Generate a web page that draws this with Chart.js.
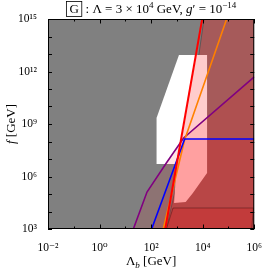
<!DOCTYPE html>
<html>
<head>
<meta charset="utf-8">
<script src="https://cdn.jsdelivr.net/npm/chart.js@4.4.0/dist/chart.umd.min.js"></script>
<style>
  html, body { margin: 0; padding: 0; background: #fff; }
  #wrap { width: 266px; height: 273px; }
</style>
</head>
<body>
<div id="wrap"><canvas id="chart"></canvas></div>
<script>
// all values are log10: x = log10(Lambda_b / GeV), y = log10(f / GeV)
var xTicks = [-2, -1, 0, 1, 2, 3, 4, 5, 6];
var yTicks = [3, 4, 5, 6, 7, 8, 9, 10, 11, 12, 13, 14, 15];

var grayRegion  = [[-2, 3], [6, 3], [6, 15], [-2, 15]];
var darkRegion  = [[4.05, 15], [6, 15], [6, 3], [2.59, 3], [3.38, 8.09]];
var whiteRegion = [[2.21, 9.34], [3.08, 12.94], [3.73, 12.94], [2.99, 6.71], [2.21, 6.71]];
var pinkRegion  = [[3.73, 12.94], [4.17, 12.94], [4.17, 6.2], [3.62, 5.06], [3.34, 4.54], [2.89, 4.49], [2.99, 6.71]];
var bandRegion  = [[2.59, 3], [2.85, 4.2], [5.97, 4.2], [5.9, 3]];

var purpleLine = [[1.31, 3], [1.84, 5.11], [2.59, 6.77], [3.26, 8.2], [6, 11.69]];
var blueLine   = [[2.02, 3], [3.30, 8.14], [6, 8.14]];
var redLine    = [[3.98, 15], [2.55, 3]];
var orangeLine = [[4.93, 15], [3.30, 8.1], [2.47, 3]];
var edgeLine   = [[4.05, 15], [3.38, 8.09], [2.59, 3]];
var cornerBR   = [[6, 3]];

var SERIF = '"Liberation Serif", "DejaVu Serif", serif';
var SUP = {'-': '\u207B', '0': '\u2070', '1': '\u00B9', '2': '\u00B2', '3': '\u00B3', '4': '\u2074',
           '5': '\u2075', '6': '\u2076', '7': '\u2077', '8': '\u2078', '9': '\u2079'};
function pow10(v) {
  return '10' + String(v).split('').map(function (c) { return SUP[c]; }).join('');
}
function pts(a) {
  return a.map(function (p) { return {x: p[0], y: p[1]}; });
}
function area(a, color, order, border, bw) {
  return {data: pts(a), showLine: true, fill: 'shape', backgroundColor: color,
          borderColor: border || 'rgba(0,0,0,0)', borderWidth: bw || 0,
          pointRadius: 0, order: order};
}
function line(a, color, w, order) {
  return {data: pts(a), showLine: true, fill: false, borderColor: color,
          borderWidth: w, pointRadius: 0, order: order};
}

var frameTicks = {
  id: 'frameTicks',
  afterDraw: function (chart) {
    var ctx = chart.ctx, a = chart.chartArea;
    var sx = chart.scales.x, sy = chart.scales.y;
    ctx.save();
    ctx.strokeStyle = '#000';
    ctx.lineWidth = 1;
    ctx.beginPath();
    xTicks.forEach(function (v) {
      var p = Math.round(sx.getPixelForValue(v)) + 0.5;
      var len = v % 2 === 0 ? 4.5 : 2.5;
      ctx.moveTo(p, a.bottom); ctx.lineTo(p, a.bottom - len);
      ctx.moveTo(p, a.top); ctx.lineTo(p, a.top + len);
    });
    yTicks.forEach(function (v) {
      var p = Math.round(sy.getPixelForValue(v)) + 0.5;
      ctx.moveTo(a.left, p); ctx.lineTo(a.left + 4, p);
      ctx.moveTo(a.right, p); ctx.lineTo(a.right - 4, p);
    });
    ctx.stroke();
    ctx.strokeRect(a.left + 0.5, a.top + 0.5, a.right - a.left - 1, a.bottom - a.top - 1);
    ctx.restore();
  }
};

var texts = {
  id: 'texts',
  afterDraw: function (chart) {
    var ctx = chart.ctx, a = chart.chartArea;
    var cx = (a.left + a.right) / 2, cy = (a.top + a.bottom) / 2;
    ctx.save();
    ctx.fillStyle = '#000';
    ctx.strokeStyle = '#000';
    ctx.textBaseline = 'alphabetic';
    ctx.textAlign = 'left';

    // title
    var big = '13px ' + SERIF, small = '9px ' + SERIF, ital = 'italic 13px ' + SERIF;
    var parts = [
      {t: 'G', f: big, box: true},
      {t: ' : \u039B = 3 \u00D7 10', f: big},
      {t: '4', f: small, sup: true},
      {t: ' GeV, ', f: big},
      {t: 'g', f: ital},
      {t: '\u2032 = 10', f: big},
      {t: '\u221214', f: small, sup: true}
    ];
    var w = 0;
    parts.forEach(function (p) { ctx.font = p.f; p.w = ctx.measureText(p.t).width + (p.box ? 7 : 0); w += p.w; });
    var x = cx - w / 2, base = 13;
    parts.forEach(function (p) {
      ctx.font = p.f;
      if (p.box) {
        ctx.lineWidth = 0.8;
        ctx.strokeRect(x + 0.5, 1.5, p.w - 1, 15);
        ctx.fillText(p.t, x + 3.5, base);
      } else {
        ctx.fillText(p.t, x, p.sup ? base - 5 : base);
      }
      x += p.w;
    });

    // x axis title
    var xp = [
      {t: '\u039B', f: big},
      {t: 'b', f: 'italic 9px ' + SERIF, sub: true},
      {t: ' [GeV]', f: big}
    ];
    w = 0;
    xp.forEach(function (p) { ctx.font = p.f; p.w = ctx.measureText(p.t).width; w += p.w; });
    x = cx - w / 2;
    xp.forEach(function (p) {
      ctx.font = p.f;
      ctx.fillText(p.t, x, p.sub ? 268 : 265);
      x += p.w;
    });

    // y axis title
    ctx.translate(15, cy);
    ctx.rotate(-Math.PI / 2);
    var yp = [{t: 'f', f: ital}, {t: ' [GeV]', f: big}];
    w = 0;
    yp.forEach(function (p) { ctx.font = p.f; p.w = ctx.measureText(p.t).width; w += p.w; });
    x = -w / 2;
    yp.forEach(function (p) {
      ctx.font = p.f;
      ctx.fillText(p.t, x, 0);
      x += p.w;
    });
    ctx.restore();
  }
};

var datasets = [
  area(grayRegion, '#808080', 10),
  area(darkRegion, '#a65a5a', 9),
  line(edgeLine, '#505050', 0.8, 8),
  area(whiteRegion, '#ffffff', 7),
  area(pinkRegion, '#ffcccc', 6),
  area(purpleLine.concat(cornerBR), 'rgba(255,0,0,0.10)', 5),
  area(blueLine.concat(cornerBR), 'rgba(255,0,0,0.12)', 4),
  area(bandRegion, 'rgba(255,0,0,0.15)', 3, 'rgba(70,20,20,0.6)', 0.8),
  line(purpleLine, '#800080', 1.6, 2),
  line(blueLine, '#0000ff', 1.6, 1),
  line(orangeLine, '#ff8000', 1.6, 1),
  line(redLine, '#ff0000', 2, 0)
];

new Chart(document.getElementById('chart'), {
  type: 'scatter',
  data: {datasets: datasets},
  options: {
    responsive: true,
    maintainAspectRatio: false,
    animation: false,
    layout: {padding: {top: 19, right: 5, left: 0, bottom: 0}},
    plugins: {legend: {display: false}, tooltip: {enabled: false}},
    scales: {
      x: {
        type: 'linear', min: -2, max: 6,
        afterFit: function (s) { s.height = 44; },
        grid: {display: false}, border: {display: false},
        afterBuildTicks: function (s) { s.ticks = xTicks.map(function (v) { return {value: v}; }); },
        ticks: {
          autoSkip: false, maxRotation: 0, padding: 4, color: '#000',
          font: {family: SERIF, size: 11.5},
          callback: function (v) { return v % 2 === 0 ? pow10(v) : ''; }
        }
      },
      y: {
        type: 'linear', min: 3, max: 15,
        afterFit: function (s) { s.width = 48; },
        grid: {display: false}, border: {display: false},
        afterBuildTicks: function (s) { s.ticks = yTicks.map(function (v) { return {value: v}; }); },
        ticks: {
          autoSkip: false, padding: 3, color: '#000',
          font: {family: SERIF, size: 11.5},
          callback: function (v) { return v % 3 === 0 ? pow10(v) : ''; }
        }
      }
    }
  },
  plugins: [frameTicks, texts]
});
</script>
</body>
</html>
